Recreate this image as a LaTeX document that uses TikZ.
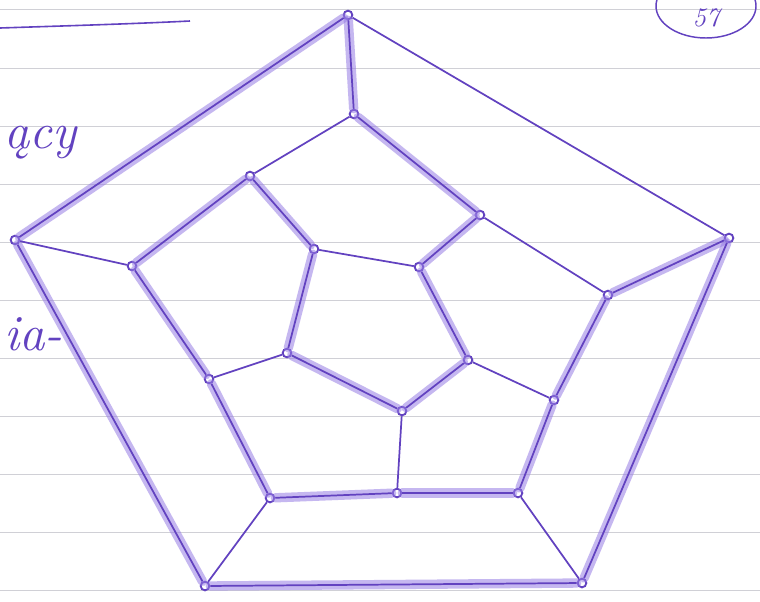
\documentclass[tikz,border=0pt]{standalone}
\usepackage{fontspec}
\definecolor{ink}{RGB}{98,66,192}
\definecolor{inklight}{RGB}{150,124,228}
\definecolor{ruling}{RGB}{208,208,214}
\begin{document}
\begin{tikzpicture}[x=0.75pt,y=0.75pt,yscale=-1,xscale=1,
    vertex/.style={circle,draw=ink,line width=1.4,inner sep=0pt,minimum size=6.5pt},
    edge/.style={draw=ink,line width=1.3},
    tourglow/.style={draw=inklight,line width=7pt,opacity=0.55,line cap=round},
    hand/.style={text=ink,font=\itshape\fontsize{38}{38}\selectfont,inner sep=0pt}]
\useasboundingbox (0,0) rectangle (760,601);
\clip (0,0) rectangle (760,601);
\fill[white] (0,0) rectangle (760,601);

%Ruled paper
\foreach \y in {9,68,126,184,242,300,358,416,474,532,590}
  \draw[ruling,line width=0.6] (0,\y) -- (760,\y);

% Text Node
\node[hand,anchor=base west] (word) at (4,148) {ący};
% Text Node
\node[hand,anchor=base west] (syll) at (4,350) {ia-};
% Text Node
\node[hand,anchor=base,font=\itshape\fontsize{20}{20}\selectfont] (page) at (706,26) {57};
%Shape: Ellipse
\draw[ink,line width=1.1] (706,6) ellipse (50 and 32);
%Straight Lines
\draw[ink,line width=1.2] (0,28) .. controls (60,26) and (130,24) .. (190,21);

%Vertices: outer ring
\node[vertex] (top) at (348,15) {};
\node[vertex] (rgt) at (729,238) {};
\node[vertex] (bri) at (582,583) {};
\node[vertex] (ble) at (205,586) {};
\node[vertex] (lft) at (15,240) {};
%Vertices: middle ring
\node[vertex] (m1) at (354,114) {};
\node[vertex] (m2) at (480,215) {};
\node[vertex] (m3) at (608,295) {};
\node[vertex] (m4) at (554,400) {};
\node[vertex] (m5) at (518,493) {};
\node[vertex] (m6) at (397,493) {};
\node[vertex] (m7) at (270,498) {};
\node[vertex] (m8) at (209,379) {};
\node[vertex] (m9) at (132,266) {};
\node[vertex] (m10) at (250,176) {};
%Vertices: inner ring
\node[vertex] (i1) at (314,249) {};
\node[vertex] (i2) at (419,267) {};
\node[vertex] (i3) at (468,360) {};
\node[vertex] (i4) at (402,411) {};
\node[vertex] (i5) at (287,353) {};

%Marked cycle
\foreach \a/\b in {top/m1,m1/m2,m2/i2,i2/i3,i3/i4,i4/i5,i5/i1,i1/m10,m10/m9,m9/m8,
    m8/m7,m7/m6,m6/m5,m5/m4,m4/m3,m3/rgt,rgt/bri,bri/ble,ble/lft,lft/top}
  \draw[tourglow] (\a) -- (\b);

%Edges
\foreach \a/\b in {top/m1,m1/m2,m2/i2,i2/i3,i3/i4,i4/i5,i5/i1,i1/m10,m10/m9,m9/m8,
    m8/m7,m7/m6,m6/m5,m5/m4,m4/m3,m3/rgt,rgt/bri,bri/ble,ble/lft,lft/top,
    top/rgt,lft/m9,ble/m7,bri/m5,m6/i4,m4/i3,m2/m3,m8/i5,m10/m1,i1/i2}
  \draw[edge] (\a) -- (\b);
\end{tikzpicture}
\end{document}
